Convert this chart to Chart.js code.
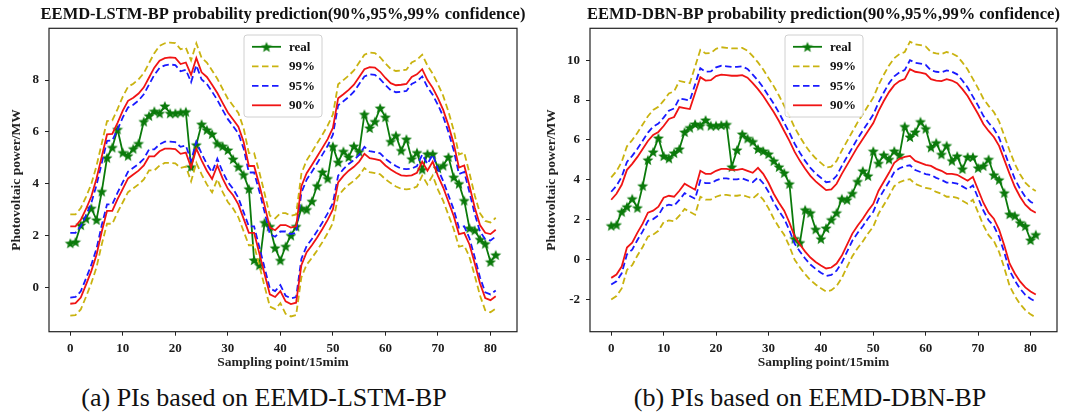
<!DOCTYPE html>
<html>
<head>
<meta charset="utf-8">
<title>EEMD probability prediction intervals</title>
<script src="https://cdn.jsdelivr.net/npm/chart.js@4.4.1/dist/chart.umd.min.js"></script>
<style>
  html, body { margin: 0; padding: 0; background: #fff; }
  #page { position: relative; width: 1067px; height: 416px; overflow: hidden; }
  .panel { position: absolute; top: 0; }
  .caption {
    position: absolute; top: 383px; width: 420px; text-align: center;
    font-family: 'Liberation Serif', 'Times New Roman', serif; font-size: 26px;
    line-height: 30px; color: #111; white-space: nowrap;
  }
</style>
</head>
<body>
<div id="page">
  <div class="panel" style="left:0;width:540px;height:375px"><canvas id="lstmChart" width="540" height="375"></canvas></div>
  <div class="panel" style="left:540px;width:527px;height:375px"><canvas id="dbnChart" width="527" height="375"></canvas></div>
  <div class="caption" style="left:54px">(a) PIs based on EEMD-LSTM-BP</div>
  <div class="caption" style="left:600px">(b) PIs based on EEMD-DBN-BP</div>
</div>
<script>
// ---- data (sampling points 0..81, 15 min step) ----
const xTicks = [0, 10, 20, 30, 40, 50, 60, 70, 80];
const lstmYTicks = [0, 2, 4, 6, 8];
const dbnYTicks = [-2, 0, 2, 4, 6, 8, 10];

const realPower = [
  1.7, 1.75, 2.4, 2.65, 3.05, 2.6, 3.7, 5.0, 5.4, 6.1,
  5.2, 5.08, 5.35, 5.55, 6.4, 6.62, 6.8, 6.72, 7.0, 6.72,
  6.72, 6.75, 6.78, 4.65, 5.5, 6.3, 6.08, 5.92, 5.55, 5.45,
  5.3, 4.95, 4.65, 4.35, 3.8, 1.05, 0.85, 2.5, 2.35, 1.52,
  1.04, 1.58, 2.0, 2.35, 3.05, 3.0, 3.32, 3.92, 4.45, 4.2,
  5.44, 4.83, 5.25, 5.03, 5.45, 5.24, 6.68, 6.15, 6.4, 6.92,
  6.57, 5.63, 5.86, 5.28, 5.72, 4.96, 5.2, 4.55, 5.15, 5.15,
  4.6, 4.7, 5.03, 4.25, 4.0, 3.35, 2.28, 2.2, 1.85, 1.68,
  0.98, 1.25
];

// EEMD-LSTM-BP interval bounds
const lstmUpper90 = [
  2.35, 2.35, 2.6, 3.02, 3.5, 4.2, 5.05, 5.9, 5.92, 6.35,
  6.82, 7.2, 7.32, 7.48, 7.72, 8.1, 8.48, 8.75, 8.85, 8.88,
  8.86, 8.62, 8.68, 8.2, 8.85, 8.3, 8.12, 7.82, 7.5, 7.12,
  6.75, 6.48, 6.2, 5.62, 4.68, 4.68, 3.95, 3.15, 2.3, 2.2,
  2.4, 2.4, 2.3, 2.35, 3.9, 4.4, 4.72, 5.05, 5.38, 5.72,
  6.15, 7.3, 7.45, 7.62, 7.82, 8.12, 8.42, 8.5, 8.48, 8.32,
  8.08, 7.88, 7.8, 7.82, 7.85, 8.12, 8.22, 8.42, 8.0, 7.7,
  7.3, 6.85, 6.25, 5.55, 4.62, 4.7, 3.92, 3.08, 2.4, 2.1,
  2.05, 2.22
];
const lstmLower90 = [
  -0.64, -0.62, -0.4, 0.1, 0.62, 1.25, 2.15, 2.95, 2.95, 3.4,
  3.8, 4.2, 4.35, 4.5, 4.7, 5.05, 5.05, 5.25, 5.35, 5.35,
  5.33, 5.15, 5.2, 4.62, 5.35, 4.9, 4.5, 4.18, 4.7, 4.2,
  3.8, 3.55, 3.2, 2.65, 2.1, 2.1, 1.3, 0.5, -0.28, -0.38,
  -0.15, -0.55, -0.65, -0.6, 0.85, 1.35, 1.62, 1.92, 2.25, 2.6,
  3.0, 4.05, 4.3, 4.5, 4.65, 4.85, 5.15, 4.98, 4.95, 4.9,
  4.7, 4.55, 4.42, 4.32, 4.3, 4.32, 4.42, 4.85, 4.5, 4.85,
  4.3, 3.85, 3.3, 2.75, 2.05, 2.1, 1.65, 0.92, 0.15, -0.42,
  -0.5, -0.35
];
const lstmUpper95 = [
  2.1, 2.1, 2.35, 2.77, 3.25, 3.95, 4.8, 5.65, 5.67, 6.09,
  6.56, 6.94, 7.05, 7.21, 7.45, 7.83, 8.2, 8.47, 8.57, 8.6,
  8.58, 8.34, 8.4, 7.92, 8.57, 8.02, 7.85, 7.55, 7.23, 6.85,
  6.49, 6.22, 5.94, 5.36, 4.43, 4.43, 3.7, 2.9, 2.05, 1.95,
  2.15, 2.15, 2.05, 2.1, 3.65, 4.15, 4.46, 4.79, 5.12, 5.46,
  5.89, 7.03, 7.18, 7.35, 7.55, 7.85, 8.14, 8.22, 8.2, 8.04,
  7.81, 7.61, 7.53, 7.55, 7.58, 7.85, 7.95, 8.14, 7.73, 7.43,
  7.04, 6.59, 5.99, 5.29, 4.37, 4.45, 3.67, 2.83, 2.15, 1.85,
  1.8, 1.96
];
const lstmLower95 = [
  -0.4, -0.38, -0.16, 0.34, 0.86, 1.49, 2.4, 3.2, 3.2, 3.65,
  4.06, 4.46, 4.61, 4.76, 4.96, 5.32, 5.32, 5.52, 5.62, 5.62,
  5.6, 5.42, 5.47, 4.88, 5.62, 5.16, 4.76, 4.44, 4.96, 4.46,
  4.06, 3.8, 3.45, 2.9, 2.35, 2.35, 1.54, 0.74, -0.05, -0.15,
  0.08, -0.33, -0.43, -0.38, 1.09, 1.59, 1.86, 2.17, 2.5, 2.85,
  3.25, 4.31, 4.56, 4.76, 4.91, 5.11, 5.42, 5.25, 5.22, 5.17,
  4.96, 4.81, 4.68, 4.58, 4.56, 4.58, 4.68, 5.12, 4.76, 5.12,
  4.56, 4.1, 3.55, 3.0, 2.3, 2.35, 1.89, 1.16, 0.38, -0.2,
  -0.28, -0.13
];
const lstmUpper99 = [
  2.81, 2.81, 3.06, 3.49, 3.98, 4.69, 5.56, 6.42, 6.44, 6.88,
  7.36, 7.74, 7.86, 8.03, 8.27, 8.66, 9.04, 9.32, 9.42, 9.45,
  9.43, 9.19, 9.25, 8.76, 9.42, 8.86, 8.68, 8.37, 8.05, 7.66,
  7.28, 7.01, 6.73, 6.14, 5.18, 5.18, 4.44, 3.62, 2.76, 2.66,
  2.86, 2.86, 2.76, 2.81, 4.39, 4.9, 5.22, 5.56, 5.89, 6.24,
  6.67, 7.84, 8.0, 8.17, 8.37, 8.68, 8.98, 9.06, 9.04, 8.88,
  8.64, 8.43, 8.35, 8.37, 8.4, 8.68, 8.78, 8.98, 8.56, 8.25,
  7.84, 7.39, 6.78, 6.06, 5.12, 5.2, 4.41, 3.55, 2.86, 2.56,
  2.5, 2.68
];
const lstmLower99 = [
  -1.1, -1.08, -0.86, -0.37, 0.15, 0.77, 1.66, 2.45, 2.45, 2.89,
  3.28, 3.67, 3.82, 3.97, 4.16, 4.51, 4.51, 4.7, 4.8, 4.8,
  4.78, 4.61, 4.66, 4.09, 4.8, 4.36, 3.97, 3.66, 4.17, 3.68,
  3.29, 3.04, 2.7, 2.16, 1.62, 1.62, 0.83, 0.03, -0.75, -0.85,
  -0.62, -1.03, -1.13, -1.08, 0.38, 0.87, 1.13, 1.42, 1.74, 2.09,
  2.48, 3.52, 3.77, 3.96, 4.11, 4.31, 4.6, 4.44, 4.41, 4.36,
  4.17, 4.02, 3.89, 3.8, 3.78, 3.8, 3.89, 4.31, 3.97, 4.31,
  3.77, 3.33, 2.79, 2.25, 1.56, 1.61, 1.17, 0.45, -0.32, -0.89,
  -0.97, -0.83
];

// EEMD-DBN-BP interval bounds
const dbnUpper90 = [
  3.0, 3.3, 3.75, 4.5, 4.8, 5.15, 5.55, 5.95, 6.25, 6.4,
  6.7, 7.05, 7.15, 7.65, 7.6, 7.55, 8.35, 9.15, 8.98, 9.0,
  9.2, 9.28, 9.25, 9.22, 9.22, 9.25, 9.12, 8.85, 8.55, 8.2,
  7.8, 7.4, 6.95, 6.45, 5.95, 5.4, 4.95, 4.55, 4.2, 3.92,
  3.7, 3.48, 3.52, 3.8, 4.3, 4.75, 5.2, 5.65, 6.05, 6.45,
  6.85, 7.45, 7.95, 8.4, 8.75, 8.95, 9.05, 9.55, 9.42, 9.38,
  9.32, 9.05, 8.98, 8.95, 9.05, 8.98, 8.85, 8.55, 8.2, 7.75,
  7.3, 6.8, 6.45, 6.15, 5.7, 5.0, 4.3, 3.65, 3.15, 2.75,
  2.5, 2.35
];
const dbnLower90 = [
  -0.92, -0.75, -0.35, 0.6, 0.85, 1.35, 1.8, 2.35, 2.45, 2.65,
  3.1, 3.2, 3.15, 3.45, 3.8, 3.65, 3.5, 4.45, 4.3, 4.3,
  4.45, 4.55, 4.55, 4.5, 4.5, 4.55, 4.45, 4.35, 4.6, 4.3,
  3.85, 3.3, 2.85, 2.45, 1.85, 1.15, 0.75, 0.4, 0.1, -0.12,
  -0.3, -0.45, -0.4, -0.2, 0.2, 0.75, 1.3, 1.7, 2.05, 2.45,
  2.8, 3.45, 3.9, 4.35, 4.85, 5.05, 5.15, 5.2, 4.95, 4.85,
  4.75, 4.7, 4.55, 4.45, 4.3, 4.3, 4.25, 4.1, 3.95, 4.15,
  3.5, 2.85, 2.35, 2.05, 1.5, 0.7, -0.2, -0.7, -1.1, -1.4,
  -1.6, -1.75
];
const dbnUpper95 = [
  3.4, 3.7, 4.15, 4.9, 5.2, 5.56, 5.96, 6.37, 6.67, 6.82,
  7.12, 7.47, 7.58, 8.08, 8.03, 7.98, 8.78, 9.6, 9.42, 9.44,
  9.64, 9.72, 9.69, 9.66, 9.66, 9.69, 9.56, 9.28, 8.98, 8.63,
  8.22, 7.82, 7.37, 6.86, 6.36, 5.81, 5.36, 4.95, 4.6, 4.32,
  4.1, 3.88, 3.92, 4.2, 4.7, 5.16, 5.61, 6.07, 6.47, 6.87,
  7.27, 7.88, 8.38, 8.84, 9.19, 9.39, 9.5, 10.0, 9.87, 9.83,
  9.77, 9.49, 9.42, 9.39, 9.49, 9.42, 9.29, 8.98, 8.63, 8.17,
  7.72, 7.21, 6.86, 6.56, 6.11, 5.41, 4.7, 4.05, 3.55, 3.15,
  2.9, 2.75
];
const dbnLower95 = [
  -1.25, -1.09, -0.69, 0.26, 0.5, 0.98, 1.41, 1.94, 2.03, 2.22,
  2.66, 2.75, 2.7, 2.99, 3.33, 3.19, 3.05, 3.97, 3.83, 3.83,
  3.97, 4.07, 4.07, 4.02, 4.02, 4.07, 3.97, 3.88, 4.12, 3.83,
  3.4, 2.87, 2.43, 2.05, 1.47, 0.79, 0.4, 0.05, -0.25, -0.47,
  -0.66, -0.82, -0.77, -0.56, -0.15, 0.4, 0.94, 1.33, 1.67, 2.06,
  2.4, 3.03, 3.47, 3.9, 4.39, 4.58, 4.68, 4.73, 4.49, 4.39,
  4.29, 4.24, 4.1, 4.0, 3.86, 3.86, 3.81, 3.67, 3.52, 3.72,
  3.09, 2.46, 1.97, 1.68, 1.14, 0.35, -0.55, -1.05, -1.46, -1.77,
  -1.97, -2.12
];
const dbnUpper99 = [
  4.12, 4.43, 4.9, 5.68, 5.99, 6.36, 6.77, 7.19, 7.5, 7.66,
  7.97, 8.33, 8.44, 8.96, 8.9, 8.85, 9.68, 10.52, 10.34, 10.36,
  10.57, 10.65, 10.62, 10.59, 10.59, 10.62, 10.48, 10.2, 9.89, 9.53,
  9.11, 8.7, 8.23, 7.71, 7.19, 6.62, 6.15, 5.73, 5.37, 5.08,
  4.85, 4.62, 4.66, 4.95, 5.47, 5.94, 6.41, 6.88, 7.29, 7.71,
  8.12, 8.75, 9.27, 9.74, 10.1, 10.31, 10.41, 10.93, 10.8, 10.76,
  10.69, 10.41, 10.34, 10.31, 10.41, 10.34, 10.2, 9.89, 9.53, 9.06,
  8.59, 8.07, 7.71, 7.4, 6.93, 6.2, 5.47, 4.8, 4.28, 3.86,
  3.6, 3.44
];
const dbnLower99 = [
  -2.0, -1.83, -1.45, -0.52, -0.28, 0.2, 0.63, 1.15, 1.25, 1.44,
  1.87, 1.96, 1.92, 2.2, 2.54, 2.39, 2.25, 3.15, 3.01, 3.01,
  3.15, 3.24, 3.24, 3.2, 3.2, 3.24, 3.15, 3.06, 3.29, 3.01,
  2.58, 2.05, 1.62, 1.24, 0.66, -0.01, -0.4, -0.74, -1.03, -1.25,
  -1.44, -1.6, -1.54, -1.33, -0.92, -0.37, 0.17, 0.57, 0.91, 1.31,
  1.65, 2.3, 2.74, 3.18, 3.68, 3.88, 3.98, 4.03, 3.79, 3.69,
  3.59, 3.54, 3.39, 3.3, 3.15, 3.15, 3.1, 2.95, 2.8, 3.0,
  2.36, 1.72, 1.22, 0.93, 0.38, -0.42, -1.32, -1.83, -2.23, -2.54,
  -2.75, -2.9
];

// ---- styling ----
const SERIF = "'Liberation Serif', 'Times New Roman', serif";
const GREEN = '#0b7a0b';
const YELLOW = '#c9b310';
const BLUE = '#1a1aff';
const RED = '#f01414';
const DASH = [6.5, 3.5];

const tickFont = { family: SERIF, size: 13, weight: 'bold' };
const labelFont = { family: SERIF, size: 13.5, weight: 'bold' };

// filled five-point star used as the marker of the measured series
function makeStar(color, size) {
  const c = document.createElement('canvas');
  c.width = size;
  c.height = size;
  const g = c.getContext('2d');
  const r = size / 2;
  g.beginPath();
  for (let k = 0; k < 10; k++) {
    const rad = k % 2 ? r * 0.42 : r - 0.3;
    const a = -Math.PI / 2 + k * Math.PI / 5;
    g.lineTo(r + rad * Math.cos(a), r + 0.6 + rad * Math.sin(a));
  }
  g.closePath();
  g.fillStyle = color;
  g.fill();
  return c;
}
const starMarker = makeStar(GREEN, 12);

const legendItems = [
  { label: 'real', color: GREEN, dash: [], star: true },
  { label: '99%', color: YELLOW, dash: DASH },
  { label: '95%', color: BLUE, dash: DASH },
  { label: '90%', color: RED, dash: [] }
];

function toPoints(values) {
  return values.map((v, i) => ({ x: i, y: v }));
}

function boundSet(values, color, dash) {
  return {
    data: toPoints(values),
    borderColor: color,
    borderWidth: 1.8,
    borderDash: dash,
    pointRadius: 0,
    fill: false,
    tension: 0
  };
}

// axes frame on all four sides
const axesFrame = {
  id: 'axesFrame',
  afterDatasetsDraw(chart) {
    const { ctx, chartArea: a } = chart;
    ctx.save();
    ctx.strokeStyle = '#222';
    ctx.lineWidth = 1.2;
    ctx.strokeRect(a.left, a.top, a.right - a.left, a.bottom - a.top);
    ctx.restore();
  }
};

// legend box in the style of the plotting tool: line sample + label
const boxLegend = {
  id: 'boxLegend',
  afterDatasetsDraw(chart, args, opts) {
    const { ctx, chartArea } = chart;
    const x = chartArea.left + opts.dx;
    const y = chartArea.top + opts.dy;
    const w = 78, h = 82, rr = 3;
    ctx.save();
    ctx.beginPath();
    ctx.moveTo(x + rr, y);
    ctx.arcTo(x + w, y, x + w, y + h, rr);
    ctx.arcTo(x + w, y + h, x, y + h, rr);
    ctx.arcTo(x, y + h, x, y, rr);
    ctx.arcTo(x, y, x + w, y, rr);
    ctx.closePath();
    ctx.fillStyle = 'rgba(255,255,255,0.85)';
    ctx.fill();
    ctx.strokeStyle = '#d0d0d0';
    ctx.lineWidth = 1;
    ctx.stroke();

    ctx.font = 'bold 13px ' + SERIF;
    ctx.textBaseline = 'middle';
    ctx.fillStyle = '#111';
    legendItems.forEach((it, k) => {
      const cy = y + 11.8 + k * 19.5;
      ctx.beginPath();
      ctx.setLineDash(it.dash);
      ctx.strokeStyle = it.color;
      ctx.lineWidth = 1.8;
      ctx.moveTo(x + 8, cy);
      ctx.lineTo(x + 37, cy);
      ctx.stroke();
      ctx.setLineDash([]);
      if (it.star) {
        ctx.drawImage(starMarker, x + 22.5 - 6, cy - 6);
      }
      ctx.fillText(it.label, x + 45, cy + 0.5);
    });
    ctx.restore();
  }
};

// panel heading centred over the plotting area
const panelTitle = {
  id: 'panelTitle',
  afterDraw(chart, args, opts) {
    const { ctx, chartArea } = chart;
    ctx.save();
    ctx.font = 'bold 16.5px ' + SERIF;
    ctx.fillStyle = '#111';
    ctx.textAlign = 'center';
    ctx.textBaseline = 'middle';
    ctx.fillText(opts.text, (chartArea.left + chartArea.right) / 2, 15);
    ctx.restore();
  }
};

function buildChart(canvasId, cfg) {
  const ctx = document.getElementById(canvasId);
  return new Chart(ctx, {
    type: 'line',
    data: {
      datasets: [
        boundSet(cfg.upper90, RED, []),
        boundSet(cfg.lower90, RED, []),
        boundSet(cfg.upper95, BLUE, DASH),
        boundSet(cfg.lower95, BLUE, DASH),
        boundSet(cfg.upper99, YELLOW, DASH),
        boundSet(cfg.lower99, YELLOW, DASH),
        {
          data: toPoints(realPower),
          borderColor: GREEN,
          borderWidth: 1.8,
          pointStyle: starMarker,
          pointRadius: 5,
          pointHoverRadius: 5,
          fill: false,
          tension: 0
        }
      ]
    },
    options: {
      responsive: false,
      animation: false,
      events: [],
      layout: { padding: { left: 0, right: cfg.rightPad, top: 28.3, bottom: 0 } },
      plugins: {
        legend: { display: false },
        tooltip: { enabled: false },
        panelTitle: { text: cfg.title },
        boxLegend: { dx: 195, dy: 6.7 }
      },
      scales: {
        x: {
          type: 'linear',
          min: -4.05,
          max: 85.05,
          afterBuildTicks: (s) => { s.ticks = xTicks.map((v) => ({ value: v })); },
          afterFit: (s) => { s.height = 43.3; },
          border: { display: false },
          grid: { drawOnChartArea: false, tickLength: 4, color: '#222', lineWidth: 1 },
          ticks: { padding: 5, color: '#1a1a1a', font: tickFont, maxRotation: 0, autoSkip: false },
          title: {
            display: true,
            text: 'Sampling point/15mim',
            color: '#222',
            font: labelFont,
            padding: { top: 0, bottom: 4.5 }
          }
        },
        y: {
          type: 'linear',
          min: cfg.yMin,
          max: cfg.yMax,
          afterBuildTicks: (s) => { s.ticks = cfg.yTicks.map((v) => ({ value: v })); },
          afterFit: (s) => { s.width = cfg.yWidth; },
          border: { display: false },
          grid: { drawOnChartArea: false, tickLength: 4, color: '#222', lineWidth: 1 },
          ticks: { padding: 6, color: '#1a1a1a', font: tickFont, autoSkip: false },
          title: {
            display: true,
            text: 'Photovoltaic power/MW',
            color: '#222',
            font: labelFont,
            padding: { top: cfg.yTitlePad, bottom: 0 }
          }
        }
      }
    },
    plugins: [axesFrame, boxLegend, panelTitle]
  });
}

buildChart('lstmChart', {
  title: 'EEMD-LSTM-BP probability prediction(90%,95%,99% confidence)',
  upper90: lstmUpper90, lower90: lstmLower90,
  upper95: lstmUpper95, lower95: lstmLower95,
  upper99: lstmUpper99, lower99: lstmLower99,
  yMin: -1.72, yMax: 10.0, yTicks: lstmYTicks,
  yWidth: 49, yTitlePad: 8.9, rightPad: 23
});

buildChart('dbnChart', {
  title: 'EEMD-DBN-BP probability prediction(90%,95%,99% confidence)',
  upper90: dbnUpper90, lower90: dbnLower90,
  upper95: dbnUpper95, lower95: dbnLower95,
  upper99: dbnUpper99, lower99: dbnLower99,
  yMin: -3.62, yMax: 11.6, yTicks: dbnYTicks,
  yWidth: 50, yTitlePad: 3.9, rightPad: 10
});
</script>
</body>
</html>
